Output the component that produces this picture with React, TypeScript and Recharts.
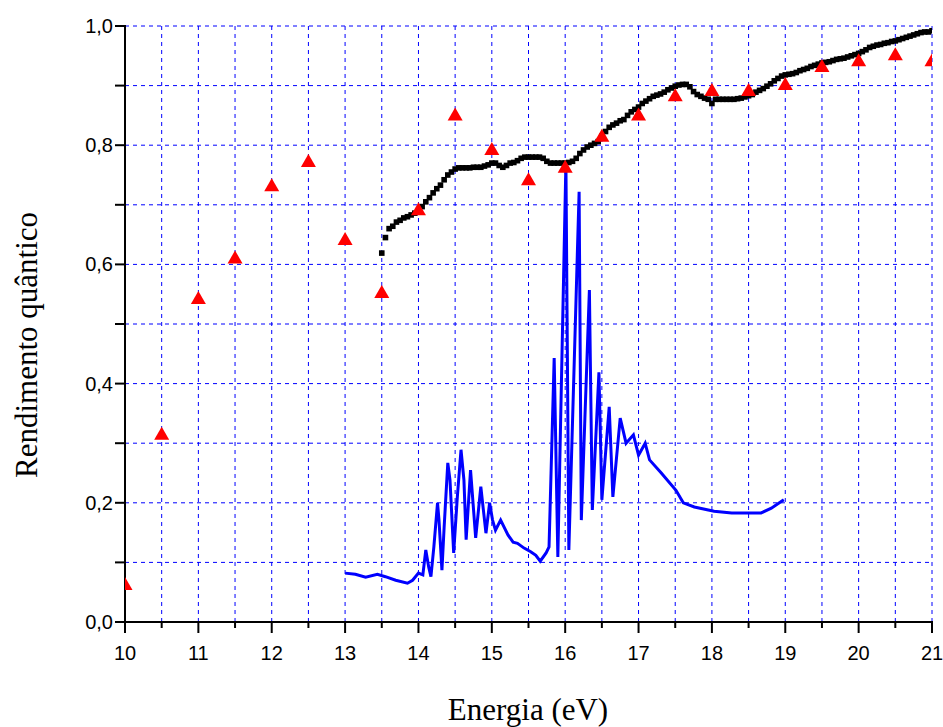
import React from "react";
import { ComposedChart, Line, Scatter, XAxis, YAxis, CartesianGrid } from "recharts";

// triangles (red), one every 0.5 eV
const triEnergy = [10, 10.5, 11, 11.5, 12, 12.5, 13, 13.5, 14, 14.5, 15, 15.5, 16, 16.5, 17, 17.5, 18, 18.5, 19, 19.5, 20, 20.5, 21];
const triYield = [0.062, 0.314, 0.542, 0.61, 0.731, 0.772, 0.641, 0.552, 0.691, 0.85, 0.792, 0.741, 0.762, 0.814, 0.85, 0.882, 0.891, 0.891, 0.901, 0.931, 0.941, 0.951, 0.941];

// black squares
const sqEnergy = [
  13.5, 13.55, 13.6, 13.65, 13.7, 13.75, 13.8, 13.85, 13.9, 13.95,
  14.0, 14.05, 14.1, 14.15, 14.2, 14.25, 14.3, 14.35, 14.4, 14.45,
  14.5, 14.55, 14.6, 14.65, 14.7, 14.75, 14.8, 14.85, 14.9, 14.95,
  15.0, 15.05, 15.1, 15.15, 15.2, 15.25, 15.3, 15.35, 15.4, 15.45,
  15.5, 15.55, 15.6, 15.65, 15.7, 15.75, 15.8, 15.85, 15.9, 15.95,
  16.0, 16.05, 16.1, 16.15, 16.2, 16.25, 16.3, 16.35, 16.4, 16.45,
  16.5, 16.55, 16.6, 16.65, 16.7, 16.75, 16.8, 16.85, 16.9, 16.95,
  17.0, 17.05, 17.1, 17.15, 17.2, 17.25, 17.3, 17.35, 17.4, 17.45,
  17.5, 17.55, 17.6, 17.65, 17.7, 17.75, 17.8, 17.85, 17.9, 17.95,
  18.0, 18.05, 18.1, 18.15, 18.2, 18.25, 18.3, 18.35, 18.4, 18.45,
  18.5, 18.55, 18.6, 18.65, 18.7, 18.75, 18.8, 18.85, 18.9, 18.95,
  19.0, 19.05, 19.1, 19.15, 19.2, 19.25, 19.3, 19.35, 19.4, 19.45,
  19.5, 19.55, 19.6, 19.65, 19.7, 19.75, 19.8, 19.85, 19.9, 19.95,
  20.0, 20.05, 20.1, 20.15, 20.2, 20.25, 20.3, 20.35, 20.4, 20.45,
  20.5, 20.55, 20.6, 20.65, 20.7, 20.75, 20.8, 20.85, 20.9, 20.95,
  21.0,
];
const sqYield = [
  0.619, 0.645, 0.66, 0.664, 0.671, 0.674, 0.678, 0.68, 0.683, 0.686,
  0.69, 0.697, 0.705, 0.712, 0.72, 0.727, 0.733, 0.742, 0.75, 0.755,
  0.76, 0.762, 0.762, 0.762, 0.762, 0.763, 0.763, 0.763, 0.765, 0.767,
  0.77, 0.77, 0.766, 0.763, 0.766, 0.77, 0.771, 0.774, 0.778, 0.78,
  0.78, 0.78, 0.78, 0.78, 0.778, 0.773, 0.77, 0.77, 0.77, 0.77,
  0.77, 0.771, 0.773, 0.778, 0.786, 0.792, 0.797, 0.8, 0.803, 0.806,
  0.815, 0.823, 0.83, 0.834, 0.837, 0.841, 0.843, 0.85, 0.856, 0.86,
  0.864, 0.87, 0.874, 0.878, 0.882, 0.884, 0.886, 0.889, 0.893, 0.896,
  0.899, 0.901, 0.902, 0.902, 0.898, 0.89, 0.885, 0.882, 0.879, 0.877,
  0.87, 0.877, 0.877, 0.877, 0.877, 0.877, 0.877, 0.878, 0.879, 0.881,
  0.883, 0.885, 0.889, 0.892, 0.895, 0.899, 0.903, 0.908, 0.912, 0.916,
  0.918, 0.919, 0.92, 0.922, 0.925, 0.927, 0.929, 0.932, 0.934, 0.936,
  0.938, 0.939, 0.94, 0.942, 0.944, 0.945, 0.946, 0.948, 0.95, 0.952,
  0.954, 0.957, 0.96, 0.964, 0.966, 0.968, 0.969, 0.971, 0.972, 0.974,
  0.975, 0.977, 0.979, 0.981, 0.983, 0.985, 0.987, 0.989, 0.99, 0.99,
  0.992,
];

// blue spectrum
const lineEnergy = [
  13.0, 13.14, 13.28, 13.44, 13.55, 13.69, 13.85, 13.92, 14.0, 14.06,
  14.1, 14.14, 14.17, 14.21, 14.26, 14.28, 14.32, 14.35, 14.4, 14.43,
  14.48, 14.53, 14.58, 14.62, 14.65, 14.71, 14.78, 14.85, 14.92, 14.97,
  15.01, 15.05, 15.12, 15.22, 15.29, 15.35, 15.44, 15.53, 15.6, 15.66,
  15.74, 15.78, 15.85, 15.9, 16.01, 16.05, 16.19, 16.22, 16.33, 16.37,
  16.46, 16.5, 16.6, 16.65, 16.75, 16.83, 16.93, 17.0, 17.09, 17.15,
  17.31, 17.51, 17.61, 17.76, 18.03, 18.27, 18.67, 18.81, 18.98,
];
const lineYield = [
  0.082, 0.08, 0.075, 0.08, 0.076, 0.07, 0.065, 0.07, 0.082, 0.079,
  0.121, 0.092, 0.076, 0.126, 0.2, 0.171, 0.087, 0.159, 0.267, 0.238,
  0.116, 0.21, 0.289, 0.238, 0.138, 0.255, 0.141, 0.227, 0.149, 0.2,
  0.171, 0.154, 0.171, 0.146, 0.134, 0.132, 0.124, 0.118, 0.112, 0.102,
  0.116, 0.126, 0.443, 0.109, 0.77, 0.121, 0.722, 0.171, 0.557, 0.188,
  0.419, 0.205, 0.361, 0.21, 0.342, 0.3, 0.314, 0.28, 0.3, 0.272,
  0.25, 0.221, 0.2, 0.193, 0.186, 0.183, 0.183, 0.191, 0.205,
];

const xTicks = [10, 10.5, 11, 11.5, 12, 12.5, 13, 13.5, 14, 14.5, 15, 15.5, 16, 16.5, 17, 17.5, 18, 18.5, 19, 19.5, 20, 20.5, 21];
const yTicks = [0, 0.1, 0.2, 0.3, 0.4, 0.5, 0.6, 0.7, 0.8, 0.9, 1.0];

const triData = triEnergy.map((x, i) => ({ x, y: triYield[i] }));
const sqData = sqEnergy.map((x, i) => ({ x, y: sqYield[i] }));
const lineData = lineEnergy.map((x, i) => ({ x, y: lineYield[i] }));

const TICK_FONT = "'Liberation Sans', Arial, sans-serif";
const LABEL_FONT = "'Liberation Serif', 'Times New Roman', serif";

const BottomTick = (props: any) => {
  const { x, y, payload } = props;
  const major = Number.isInteger(payload.value);
  return (
    <g>
      <line x1={x} x2={x} y1={y - 1} y2={y + (major ? 11 : 6)} stroke="#000" strokeWidth={2} />
      {major && (
        <text x={x} y={y + 38} textAnchor="middle" fontSize={20} fontFamily={TICK_FONT} fill="#000">
          {payload.value}
        </text>
      )}
    </g>
  );
};

const LeftTick = (props: any) => {
  const { x, y, payload } = props;
  const major = Math.round(payload.value * 10) % 2 === 0;
  return (
    <g>
      <line x1={x + 1} x2={x - 10} y1={y} y2={y} stroke="#000" strokeWidth={2} />
      {major && (
        <text x={x - 12} y={y + 7} textAnchor="end" fontSize={20} fontFamily={TICK_FONT} fill="#000">
          {payload.value.toFixed(1).replace(".", ",")}
        </text>
      )}
    </g>
  );
};

const TopTick = (props: any) => {
  const { x, y } = props;
  return <line x1={x} x2={x} y1={y} y2={y + 10} stroke="#000" strokeWidth={2} />;
};

const RightTick = (props: any) => {
  const { x, y } = props;
  return <line x1={x} x2={x - 8} y1={y} y2={y} stroke="#000" strokeWidth={2} />;
};

const Triangle = (props: any) => {
  const { cx, cy } = props;
  return <polygon points={`${cx},${cy - 8} ${cx - 7.5},${cy + 5} ${cx + 7.5},${cy + 5}`} fill="#ff0000" />;
};

const Square = (props: any) => {
  const { cx, cy } = props;
  return <rect x={cx - 2.8} y={cy - 2.8} width={5.6} height={5.6} fill="#000" />;
};

export default function App() {
  return (
    <div style={{ position: "fixed", left: 0, top: 0, width: 943, height: 727, background: "#fff" }}>
      <ComposedChart width={943} height={727} margin={{ top: 26, right: 11, left: 0, bottom: 0 }}>
        <CartesianGrid stroke="#0000ff" strokeDasharray="4 4" strokeWidth={1} />
        <XAxis
          type="number"
          dataKey="x"
          domain={[10, 21]}
          ticks={xTicks}
          interval={0}
          allowDataOverflow
          height={105}
          tickSize={0}
          tickMargin={0}
          tick={<BottomTick />}
          axisLine={{ stroke: "#000", strokeWidth: 2 }}
          label={{
            content: () => (
              <text x={528} y={720} textAnchor="middle" fontSize={31} fontFamily={LABEL_FONT} fill="#000">
                Energia (eV)
              </text>
            ),
          }}
        />
        <XAxis
          xAxisId="top"
          orientation="top"
          type="number"
          domain={[10, 21]}
          ticks={xTicks}
          interval={0}
          height={0}
          tickSize={0}
          tickMargin={0}
          tick={<TopTick />}
          axisLine={{ stroke: "#000", strokeWidth: 2 }}
        />
        <YAxis
          type="number"
          domain={[0, 1]}
          ticks={yTicks}
          interval={0}
          width={125}
          tickSize={0}
          tickMargin={0}
          tick={<LeftTick />}
          axisLine={{ stroke: "#000", strokeWidth: 2 }}
          label={{
            content: () => (
              <text
                x={0}
                y={0}
                transform="translate(37, 345) rotate(-90)"
                textAnchor="middle"
                fontSize={31}
                fontFamily={LABEL_FONT}
                fill="#000"
              >
                Rendimento quântico
              </text>
            ),
          }}
        />
        <YAxis
          yAxisId="right"
          orientation="right"
          type="number"
          domain={[0, 1]}
          ticks={yTicks}
          interval={0}
          width={0}
          tickSize={0}
          tickMargin={0}
          tick={<RightTick />}
          axisLine={{ stroke: "#000", strokeWidth: 2 }}
        />
        <Line
          data={lineData}
          dataKey="y"
          type="linear"
          stroke="#0000ff"
          strokeWidth={3}
          dot={false}
          activeDot={false}
          isAnimationActive={false}
        />
        <Scatter data={sqData} dataKey="y" shape={<Square />} isAnimationActive={false} />
        <Scatter data={triData} dataKey="y" shape={<Triangle />} isAnimationActive={false} />
      </ComposedChart>
    </div>
  );
}
